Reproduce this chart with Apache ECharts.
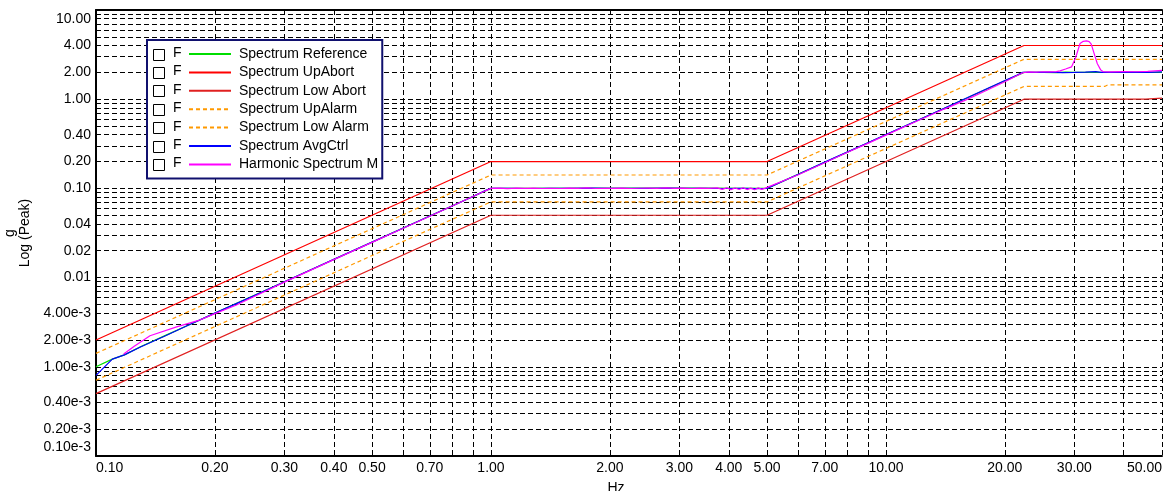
<!DOCTYPE html>
<html><head><meta charset="utf-8">
<script src="https://cdn.jsdelivr.net/npm/echarts@6/dist/echarts.min.js"></script>
<style>html,body{margin:0;padding:0;background:#fff}#c{width:1163px;height:491px}</style>
</head><body><div id="c"></div>
<script>
const seriesNames = ['Spectrum Reference','Spectrum UpAbort','Spectrum Low Abort','Spectrum UpAlarm','Spectrum Low Alarm','Spectrum AvgCtrl','Harmonic Spectrum M'];

const xTickValues = [0.1,0.2,0.3,0.4,0.5,0.7,1,2,3,4,5,7,10,20,30,50];
const xTickLabels = ['0.10','0.20','0.30','0.40','0.50','0.70','1.00','2.00','3.00','4.00','5.00','7.00','10.00','20.00','30.00','50.00'];
const xGridValues = [0.1,0.2,0.3,0.4,0.5,0.6,0.7,0.8,0.9,1,2,3,4,5,6,7,8,9,10,20,30,40,50];

const yTickValues = [10,4,2,1,0.4,0.2,0.1,0.04,0.02,0.01,0.004,0.002,0.001,0.0004,0.0002,0.0001];
const yTickLabels = ['10.00','4.00','2.00','1.00','0.40','0.20','0.10','0.04','0.02','0.01','4.00e-3','2.00e-3','1.00e-3','0.40e-3','0.20e-3','0.10e-3'];
const yGridValues = [0.0001,0.0002,0.0003,0.0004,0.0005,0.0006,0.0007,0.0008,0.0009,
  0.001,0.002,0.003,0.004,0.005,0.006,0.007,0.008,0.009,
  0.01,0.02,0.03,0.04,0.05,0.06,0.07,0.08,0.09,
  0.1,0.2,0.3,0.4,0.5,0.6,0.7,0.8,0.9,
  1,2,3,4,5,6,7,8,9,10];

// Spectrum Reference (green)
const refData = [[0.1,1.0e-3],[0.11,1.22e-3],[0.118,1.36e-3],[0.13,1.69e-3],[0.15,2.25e-3],[0.17,2.89e-3],[0.2,4.0e-3],[0.3,9.0e-3],[0.5,0.025],[0.7,0.049],[1.0,0.1],[3.0,0.1005],[5.0,0.1],[7,0.196],[10,0.4],[15,0.9],[22.36,2.0],[25,2.0],[27,1.99],[28.5,2.01],[30,2.0],[50,2.0]];
// Limits
const upAbortData = [[0.1,2.0e-3],[1,0.2],[5,0.2],[22.36,4.0],[50,4.0]];
const lowAbortData = [[0.1,0.5e-3],[1,0.05],[5,0.05],[22.36,1.0],[45.5,1.0],[46,1.03],[50,1.03]];
const upAlarmData = [[0.1,1.414e-3],[1,0.1414],[5,0.1414],[22.36,2.8],[50,2.8]];
const lowAlarmData = [[0.1,0.707e-3],[1,0.0707],[5,0.0707],[22.36,1.39],[35.8,1.39],[36.5,1.45],[50,1.45]];
// Spectrum AvgCtrl (blue)
const avgData = [[0.1,0.8e-3],[0.11,1.22e-3],[0.118,1.36e-3],[0.13,1.68e-3],[0.15,2.23e-3],[0.17,2.88e-3],[0.2,4.0e-3],[0.25,6.2e-3],[0.3,9.0e-3],[0.4,0.016],[0.5,0.025],[0.6,0.036],[0.7,0.049],[0.8,0.064],[0.9,0.081],[0.97,0.095],[1.0,0.1],
  [1.1,0.1003],[1.25,0.0998],[1.4,0.1004],[1.6,0.1],[1.8,0.1006],[2.0,0.1],[2.2,0.1004],[2.5,0.0999],[2.8,0.1005],[3.1,0.1],[3.5,0.1003],[3.9,0.0997],[4.3,0.1004],[4.7,0.0996],[5.0,0.1],
  [6,0.144],[7,0.197],[8,0.257],[9,0.325],[10,0.402],[12,0.578],[14,0.786],[16,1.03],[18,1.31],[20,1.62],[21.5,1.87],[22.2,2.0],[24,2.0],[26,2.01],[28,1.99],[30,2.0],[32,2.01],[34,2.04],[35,2.0],[38,2.0],[42,2.01],[46,2.0],[50,2.02]];
// Harmonic Spectrum M (magenta)
const magData = [[0.1175,1.39e-3],[0.125,1.7e-3],[0.137,2.23e-3],[0.16,2.8e-3],[0.182,3.31e-3],[0.2,3.95e-3],[0.226,4.9e-3],[0.25,6.05e-3],[0.3,8.9e-3],[0.4,0.0159],[0.5,0.0248],[0.6,0.0358],[0.7,0.0488],[0.8,0.0638],[0.9,0.081],[0.95,0.0905],[1.0,0.1],
  [1.05,0.1005],[1.1,0.0995],[1.16,0.1005],[1.22,0.1],[1.28,0.1008],[1.35,0.0998],[1.42,0.1003],[1.5,0.0997],[1.58,0.1005],[1.66,0.1],[1.75,0.1012],[1.84,0.0998],[1.94,0.1004],[2.04,0.1],[2.15,0.1006],[2.26,0.0998],[2.38,0.1004],[2.5,0.1009],[2.63,0.1],[2.77,0.1012],[2.91,0.1002],[3.06,0.1007],[3.22,0.0998],[3.39,0.1008],[3.56,0.1],[3.74,0.1012],[3.85,0.0975],[3.95,0.1015],[4.05,0.0968],[4.15,0.1012],[4.25,0.0972],[4.35,0.1018],[4.45,0.097],[4.55,0.1008],[4.65,0.0965],[4.75,0.1014],[4.85,0.0975],[4.95,0.1006],[5.0,0.1],
  [6,0.142],[7,0.194],[8,0.254],[9,0.32],[10,0.396],[12,0.57],[14,0.77],[16,0.99],[18,1.26],[20,1.57],[21.5,1.84],[22.3,1.99],[23,2.02],[24,2.01],[25,2.03],[26,2.02],[27,2.04],[27.6,2.08],[28.5,2.18],[29.5,2.3],[30.2,2.9],[31.0,4.2],[31.6,4.45],[32.2,4.5],[32.7,4.42],[33.1,4.15],[33.7,3.2],[34.3,2.5],[35.0,2.12],[35.5,2.03],[37,2.02],[40,2.04],[43,2.03],[46,2.05],[48,2.08],[50,2.1]];

const FONT = "'Liberation Sans', Arial, sans-serif";
const colors = ['#00dd00','#ff0000','#e02020','#ff9900','#ff9900','#0000ff','#ff00ff'];
const dataSets = [refData, upAbortData, lowAbortData, upAlarmData, lowAlarmData, avgData, magData];
const dashed = [false,false,false,true,true,false,false];

function labelFor(v, vals, labels){
  for (let i=0;i<vals.length;i++){ if (Math.abs(v-vals[i]) <= vals[i]*1e-6) return labels[i]; }
  return '';
}
function yLabel(v){
  const s = labelFor(v, yTickValues, yTickLabels);
  if (s === yTickLabels[0]) return '\n' + s;               // top label pushed inside
  if (s === yTickLabels[yTickLabels.length-1]) return s + '\n'; // bottom label pushed inside
  return s;
}

const chart = echarts.init(document.getElementById('c'), null, {renderer:'canvas'});

const gridLine = {show:true, lineStyle:{color:'#000', width:1, type:[5,3]}};

const legendLeft = 147, legendTop = 40, rowPitch = 18.4, firstRowCenter = 54;
const graphics = [];
seriesNames.forEach((n,i)=>{
  const cy = firstRowCenter + i*rowPitch;
  graphics.push({type:'rect', left:153, top:Math.round(cy-5.5), shape:{x:0,y:0,width:11,height:11}, style:{fill:'#fff', stroke:'#000', lineWidth:1}, z:100});
  graphics.push({type:'text', left:173, top:Math.round(cy-8), style:{text:'F', font:'14px '+FONT, fill:'#000'}, z:100});
});

const option = {
  animation:false,
  backgroundColor:'#fff',
  textStyle:{fontFamily:FONT},
  grid:{left:96, right:1, top:10, bottom:35, containLabel:false, outerBoundsMode:'none'},
  xAxis:[{
    type:'log', logBase:10, min:0.1, max:50,
    name:'Hz', nameLocation:'middle', nameGap:25,
    nameTextStyle:{fontSize:14, color:'#000', fontFamily:FONT, padding:[0,26,0,0]},
    axisLine:{show:true, onZero:false, lineStyle:{color:'#000', width:2}},
    axisTick:{show:false, customValues:xGridValues},
    splitLine:gridLine,
    minorTick:{show:false}, minorSplitLine:{show:false},
    axisLabel:{show:true, customValues:xTickValues, margin:5, fontSize:14, color:'#000', fontFamily:FONT,
      alignMinLabel:'left', alignMaxLabel:'right',
      formatter:(v)=>labelFor(v, xTickValues, xTickLabels)}
  },{
    type:'log', logBase:10, min:0.1, max:50, position:'top',
    axisLine:{show:true, lineStyle:{color:'#000', width:2}},
    axisTick:{show:false}, axisLabel:{show:false}, splitLine:{show:false}
  }],
  yAxis:{
    type:'log', logBase:10, min:0.0001, max:10,
    name:'g\nLog (Peak)', nameLocation:'middle', nameGap:58, nameRotate:90,
    nameTextStyle:{fontSize:14, color:'#000', fontFamily:FONT, lineHeight:15, align:'center'},
    axisLine:{show:true, onZero:false, lineStyle:{color:'#000', width:2}},
    axisTick:{show:false, customValues:yGridValues},
    splitLine:gridLine,
    axisLabel:{show:true, customValues:yTickValues, margin:5, fontSize:14, lineHeight:18, color:'#000', fontFamily:FONT,
      formatter:yLabel}
  },
  legend:{
    show:true, orient:'vertical', left:legendLeft, top:legendTop,
    padding:[7,4,7,41], itemWidth:42, itemHeight:14, itemGap:4.4,
    backgroundColor:'#fff', borderColor:'#10106e', borderWidth:2, borderRadius:0,
    selectedMode:false,
    itemStyle:{opacity:0},
    textStyle:{fontSize:14, color:'#000', fontFamily:FONT, lineHeight:14, padding:[0,0,0,3]},
    data:seriesNames
  },
  graphic:graphics,
  series: seriesNames.map((n,i)=>({
    name:n, type:'line', data:dataSets[i], symbol:'none', showSymbol:false,
    lineStyle:{color:colors[i], width:1.2, type: dashed[i] ? [4,3] : 'solid'},
    itemStyle:{color:colors[i]},
    z: 2+i
  }))
};
chart.setOption(option);
</script>
</body></html>
